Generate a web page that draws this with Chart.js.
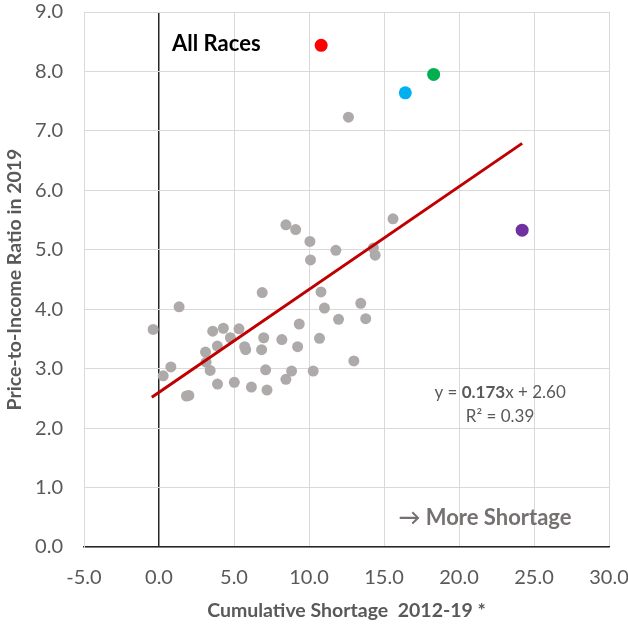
<!DOCTYPE html>
<html>
<head>
<meta charset="utf-8">
<script src="https://cdn.jsdelivr.net/npm/chart.js@4"></script>
<style>
  html, body { margin: 0; padding: 0; background: #fff; }
  #wrap { width: 628px; height: 624px; position: relative; }
</style>
</head>
<body>
<div id="wrap"><canvas id="chart"></canvas></div>
<script>
// states, gray dots
const grayX = [-0.39, 0.28, 0.79, 1.34, 1.83, 1.99, 3.10, 3.14, 3.41, 3.58, 3.89, 3.90, 4.29, 4.76, 5.02, 5.33,
  5.71, 5.78, 6.16, 6.84, 6.98, 6.88, 7.11, 7.20, 8.19, 8.46, 8.84, 9.24, 9.35, 10.28, 10.70, 10.80, 11.03,
  11.97, 12.99, 13.45, 13.78, 8.46, 9.11, 10.06, 10.10, 11.79, 14.29, 14.41, 15.60, 12.63];
const grayY = [3.66, 2.88, 3.03, 4.04, 2.54, 2.55, 3.28, 3.11, 2.97, 3.63, 3.38, 2.74, 3.68, 3.52, 2.77, 3.67,
  3.37, 3.32, 2.69, 3.32, 3.52, 4.28, 2.98, 2.64, 3.49, 2.82, 2.96, 3.37, 3.75, 2.96, 3.51, 4.29, 4.02,
  3.83, 3.13, 4.10, 3.84, 5.42, 5.34, 5.14, 4.83, 4.99, 5.03, 4.91, 5.52, 7.23];

// highlighted dots
const highlightX = [10.81, 16.42, 18.31, 24.21];
const highlightY = [8.44, 7.64, 7.95, 5.33];
const highlightColors = ['#ff0000', '#00b0f0', '#00b050', '#7030a0'];

// linear trend end points
const trendX = [-0.48, 24.21];
const trendY = [2.52, 6.79];

const xTicks = [-5, 0, 5, 10, 15, 20, 25, 30];
const yTicks = [0, 1, 2, 3, 4, 5, 6, 7, 8, 9];

const toPoints = (xs, ys) => xs.map((x, i) => ({ x: x, y: ys[i] }));

// no extra room for overhanging tick labels, layout padding decides
const noPad = s => { s.paddingTop = 0; s.paddingBottom = 0; s.paddingLeft = 0; s.paddingRight = 0; };

const labelPlugin = {
  id: 'labels',
  afterDatasetsDraw(chart) {
    const { ctx, scales: { x, y } } = chart;
    ctx.save();
    ctx.textBaseline = 'middle';

    ctx.fillStyle = '#000';
    ctx.font = 'bold 22px Lato';
    ctx.textAlign = 'left';
    ctx.fillText('All Races', x.getPixelForValue(0.87), y.getPixelForValue(8.47));

    // equation, with the slope in bold
    const parts = [['y = ', '17px Lato'], ['0.173', 'bold 17px Lato'], ['x + 2.60', '17px Lato']];
    let total = 0;
    parts.forEach(p => { ctx.font = p[1]; total += ctx.measureText(p[0]).width; });
    let px = x.getPixelForValue(22.74) - total / 2;
    const py = y.getPixelForValue(2.60);
    ctx.fillStyle = '#595959';
    parts.forEach(p => {
      ctx.font = p[1];
      ctx.fillText(p[0], px, py);
      px += ctx.measureText(p[0]).width;
    });
    ctx.font = '17px Lato';
    ctx.textAlign = 'center';
    ctx.fillText('R² = 0.39', x.getPixelForValue(22.74), y.getPixelForValue(2.19));

    ctx.fillStyle = '#767171';
    ctx.font = 'bold 22px Lato';
    ctx.textAlign = 'left';
    ctx.fillText('→ More Shortage', x.getPixelForValue(15.96), y.getPixelForValue(0.49));
    ctx.restore();
  }
};

new Chart(document.getElementById('chart'), {
  type: 'scatter',
  data: {
    datasets: [
      {
        type: 'line',
        data: toPoints(trendX, trendY),
        borderColor: '#c00000',
        borderWidth: 3,
        pointRadius: 0,
        fill: false,
        order: 0
      },
      {
        data: toPoints(highlightX, highlightY),
        backgroundColor: highlightColors,
        borderWidth: 0,
        pointRadius: 6.5,
        order: 1
      },
      {
        data: toPoints(grayX, grayY),
        backgroundColor: '#aeaaaa',
        borderWidth: 0,
        pointRadius: 5.5,
        order: 2
      }
    ]
  },
  options: {
    responsive: true,
    maintainAspectRatio: false,
    animation: false,
    layout: { padding: { top: 12, right: 19, left: 0, bottom: 0 } },
    plugins: {
      legend: { display: false },
      tooltip: { enabled: false }
    },
    scales: {
      x: {
        type: 'linear',
        min: -5,
        max: 30,
        afterBuildTicks: s => { s.ticks = xTicks.map(v => ({ value: v })); },
        afterFit: s => { s.height = 77; noPad(s); },
        ticks: {
          callback: v => v.toFixed(1),
          color: '#595959',
          font: { family: 'Lato', size: 20 },
          padding: 19,
          maxRotation: 0
        },
        grid: {
          drawTicks: false,
          color: c => (c.tick && c.tick.value === 0) ? '#262626' : '#d9d9d9',
          lineWidth: c => (c.tick && c.tick.value === 0) ? 1.5 : 1
        },
        border: { color: '#262626', width: 1.5 },
        title: {
          display: true,
          text: 'Cumulative Shortage  2012-19 *',
          color: '#595959',
          font: { family: 'Lato', size: 19.5, weight: 'bold' },
          padding: { top: 2, bottom: 2 }
        }
      },
      y: {
        type: 'linear',
        min: 0,
        max: 9,
        afterBuildTicks: s => { s.ticks = yTicks.map(v => ({ value: v })); },
        afterFit: s => { s.width = 84; noPad(s); },
        ticks: {
          callback: v => v.toFixed(1),
          color: '#595959',
          font: { family: 'Lato', size: 20 },
          padding: 21
        },
        grid: { drawTicks: false, color: '#d9d9d9' },
        border: { color: '#d9d9d9' },
        title: {
          display: true,
          text: 'Price-to-Income Ratio in 2019',
          color: '#595959',
          font: { family: 'Lato', size: 19.5, weight: 'bold' },
          padding: { top: 3, bottom: 2 }
        }
      }
    }
  },
  plugins: [labelPlugin]
});
</script>
</body>
</html>
